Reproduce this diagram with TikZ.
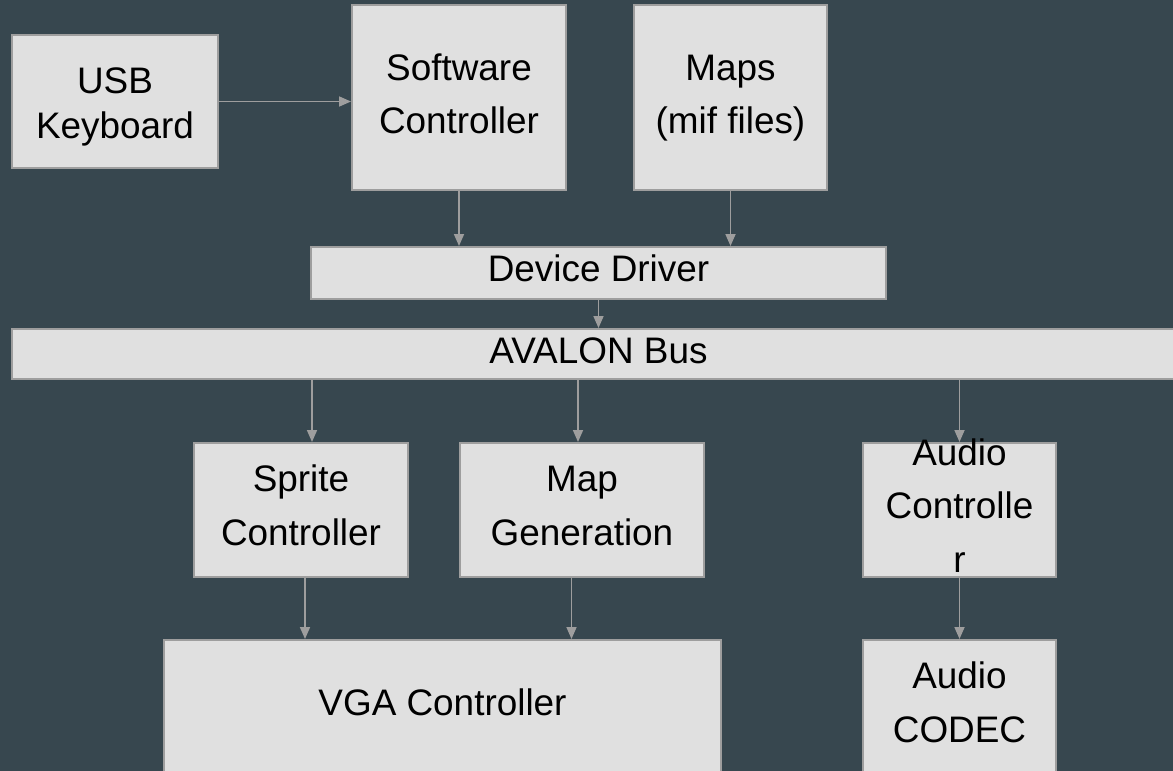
\documentclass[tikz,border=0pt]{standalone}
\usepackage{fontspec}
\setmainfont{Liberation Sans}
\usetikzlibrary{arrows.meta}
\definecolor{bg}{HTML}{37474F}
\definecolor{boxfill}{HTML}{E0E0E0}
\definecolor{boxline}{HTML}{9E9E9E}
\definecolor{arrcol}{HTML}{9E9E9E}
\tikzset{
  box/.style={draw=boxline, fill=boxfill, line width=2pt, inner sep=0pt, rectangle},
  txt/.style={anchor=base, inner sep=0pt, text=black, font=\fontsize{36.9}{44}\selectfont},
  arr/.style={draw=arrcol, line width=1.7pt, -{Triangle[length=12pt,width=10pt]}},
}
\begin{document}
\begin{tikzpicture}[x=1pt,y=-1pt]
\useasboundingbox (0,0) rectangle (1173,771);
\clip (0,0) rectangle (1173,771);
\fill[bg] (0,0) rectangle (1173,771);

% boxes
\node[box, minimum width=206pt, minimum height=133pt] (usb) at (115,101.5) {};
\node[box, minimum width=214pt, minimum height=185pt] (sw) at (459,97.5) {};
\node[box, minimum width=193pt, minimum height=185pt] (maps) at (730.5,97.5) {};
\node[box, minimum width=575pt, minimum height=52pt] (dd) at (598.5,273) {};
\node[box, minimum width=1173pt, minimum height=50pt] (av) at (598.5,354) {};
\node[box, minimum width=214pt, minimum height=134pt] (sprite) at (301,510) {};
\node[box, minimum width=244pt, minimum height=134pt] (mapgen) at (582,510) {};
\node[box, minimum width=193pt, minimum height=134pt] (audio) at (959.5,510) {};
\node[box, minimum width=557pt, minimum height=160pt] (vga) at (442.5,720) {};
\node[box, minimum width=193pt, minimum height=160pt] (codec) at (959.5,720) {};

% texts
\node[txt] (usbA) at (115,93.3) {USB};
\node[txt] (usbB) at (115,138) {Keyboard};
\node[txt] (swA) at (459,80) {Software};
\node[txt] (swB) at (459,133) {Controller};
\node[txt] (mapsA) at (730.5,80) {Maps};
\node[txt] (mapsB) at (730.5,133) {(mif files)};
\node[txt] (ddA) at (598.5,281.7) {Device Driver};
\node[txt] (avA) at (598.5,363.3) {AVALON Bus};
\node[txt] (spA) at (301,491.7) {Sprite};
\node[txt] (spB) at (301,545) {Controller};
\node[txt] (mgA) at (582,491.7) {Map};
\node[txt] (mgB) at (582,545) {Generation};
\node[txt] (auA) at (959.5,465) {Audio};
\node[txt] (auB) at (959.5,518) {Controlle};
\node[txt] (auC) at (959.5,572) {r};
\node[txt] (vgaA) at (442.5,715) {VGA Controller};
\node[txt] (coA) at (959.5,688) {Audio};
\node[txt] (coB) at (959.5,742) {CODEC};

% connectors
\draw[arr] (usb.east) -- (usb.east -| sw.west);
\draw[arr] (sw.south) -- (sw.south |- dd.north);
\draw[arr] (maps.south) -- (maps.south |- dd.north);
\draw[arr] (dd.south) -- (dd.south |- av.north);
\draw[arr] ([xshift=11pt]sprite.north |- av.south) -- ([xshift=11pt]sprite.north);
\draw[arr] ([xshift=-4pt]mapgen.north |- av.south) -- ([xshift=-4pt]mapgen.north);
\draw[arr] (audio.north |- av.south) -- (audio.north);
\draw[arr] ([xshift=4pt]sprite.south) -- ([xshift=4pt]sprite.south |- vga.north);
\draw[arr] ([xshift=-10.5pt]mapgen.south) -- ([xshift=-10.5pt]mapgen.south |- vga.north);
\draw[arr] (audio.south) -- (codec.north);
\end{tikzpicture}
\end{document}
